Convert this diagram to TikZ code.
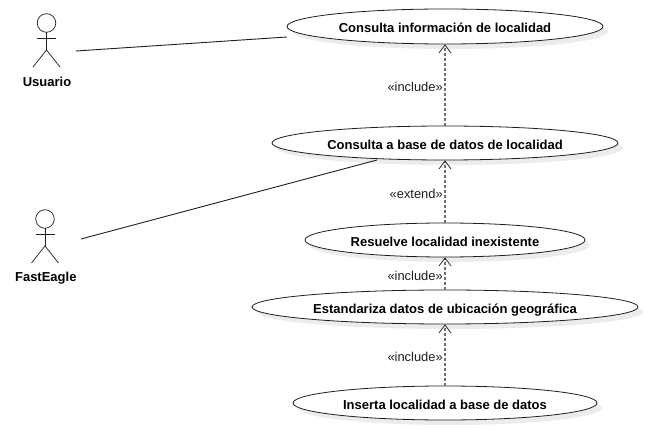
\documentclass[tikz,border=0pt]{standalone}
\usepackage{fontspec}
\setmainfont{Liberation Sans}
\usetikzlibrary{shapes.geometric,shadows,arrows.meta}
\definecolor{ucshadow}{RGB}{236, 236, 236}
\definecolor{ucline}{RGB}{30, 30, 30}
\definecolor{ucdash}{RGB}{110, 110, 110}
\tikzset{
  usecase/.style={ellipse, draw=ucline, line width=0.8pt, fill=white, inner sep=0pt,
    text height=13pt, text depth=0pt,
    font=\fontsize{13}{15}\selectfont\bfseries,
    drop shadow={shadow xshift=5pt, shadow yshift=-5pt, fill=ucshadow, opacity=1}},
  actorname/.style={font=\fontsize{13}{15}\selectfont\bfseries},
  stickman/.style={line width=0.7pt, ucline},
  assoc/.style={line width=0.9pt, ucline},
  dep/.style={line width=1.5pt, ucdash, dash pattern=on 3pt off 2pt, -{Straight Barb[length=8pt,width=12pt,line width=0.7pt,ucline]}},
  stereo/.style={left, inner sep=1.5pt, yshift=-2pt, text=ucline, font=\fontsize{12.9}{15}\selectfont}
}
\begin{document}
\begin{tikzpicture}[x=1pt,y=-1pt]
\useasboundingbox (0,0) rectangle (648,430);

% Actors
\foreach \name/\txt/\x/\y/\lx/\ly in {usuario/Usuario/46.5/23/47/81.5, fasteagle/FastEagle/45/219/45.8/278.5} {
    \draw[stickman] (\x,\y) circle (9.3);
    \draw[stickman] (\x,\y+9.3) -- (\x,\y+27);
    \draw[stickman] (\x-9.5,\y+15.5) -- (\x+9.5,\y+15.5);
    \draw[stickman] (\x-13.5,\y+44) -- (\x,\y+27) -- (\x+13.5,\y+44);
    \node[actorname] (\name) at (\lx,\ly) {\txt};
}

% Use cases
\node[usecase, minimum width=316pt, minimum height=35pt] (consulta) at (445,26.5) {Consulta información de localidad};
\node[usecase, minimum width=346pt, minimum height=34pt] (basedatos) at (445,143) {Consulta a base de datos de localidad};
\node[usecase, minimum width=280pt, minimum height=34pt] (resuelve) at (445,240) {Resuelve localidad inexistente};
\node[usecase, minimum width=386pt, minimum height=34pt] (estandariza) at (445,307) {Estandariza datos de ubicación geográfica};
\node[usecase, minimum width=304pt, minimum height=34pt] (inserta) at (445,403) {Inserta localidad a base de datos};

% Associations
\coordinate (usuarioend) at (76,51);
\coordinate (consultaend) at (287,37);
\coordinate (fasteagleend) at (81,239);
\coordinate (basedatosend) at (377,160);
\draw[assoc] (usuarioend) -- (consultaend);
\draw[assoc] (fasteagleend) -- (basedatosend);

% Dependencies
\draw[dep] (basedatos.north) -- node[stereo] {«include»} (consulta.south);
\draw[dep] (resuelve.north) -- node[stereo] {«extend»} (basedatos.south);
\draw[dep] (estandariza.north) -- node[stereo] {«include»} (resuelve.south);
\draw[dep] (inserta.north) -- node[stereo] {«include»} (estandariza.south);
\end{tikzpicture}
\end{document}
